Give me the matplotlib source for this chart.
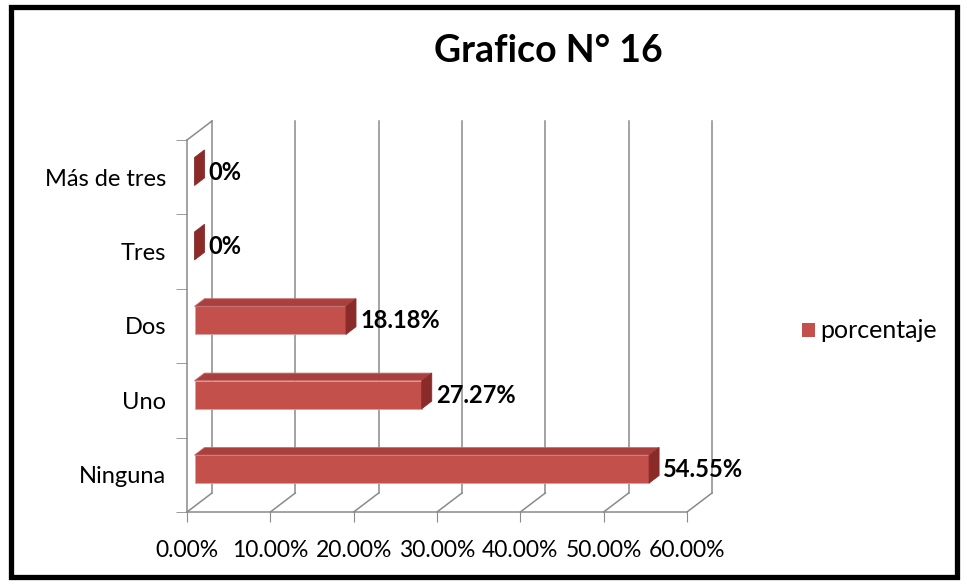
import matplotlib.pyplot as plt
import numpy as np
from matplotlib.patches import Polygon, Rectangle, Patch

plt.rcParams['font.family'] = ['Lato', 'DejaVu Sans']

# Datos
categorias = ['Ninguna', 'Uno', 'Dos', 'Tres', 'Más de tres']
porcentajes = [54.55, 27.27, 18.18, 0.0, 0.0]
etiquetas = ['54.55%', '27.27%', '18.18%', '0%', '0%']
xticks = [0, 10, 20, 30, 40, 50, 60]
xtick_labels = ['0.00%', '10.00%', '20.00%', '30.00%', '40.00%', '50.00%', '60.00%']

W, H = 967, 584
fig = plt.figure(figsize=(W / 100, H / 100), dpi=100)

# plano frontal del grafico (en pixeles de la imagen)
x0, x1 = 187, 687
y_bot, y_top = 512, 140
ax = fig.add_axes([x0 / W, 1 - y_bot / H, (x1 - x0) / W, (y_bot - y_top) / H])
ax.set_xlim(0, 60)
ax.set_ylim(-0.5, 4.5)
ax.set_facecolor('none')

# profundidad 3D en unidades de datos (25 px a la derecha, 19 px arriba)
Dx = 25 / ((x1 - x0) / 60)
Dy = 19 / ((y_bot - y_top) / 5)

grid_c = '#8a8a8a'
# pared trasera + suelo
for v in xticks:
    ax.plot([v + Dx, v + Dx], [-0.5 + Dy, 4.5 + Dy], color=grid_c, lw=1.1, clip_on=False, zorder=1)
    ax.plot([v, v + Dx], [-0.5, -0.5 + Dy], color=grid_c, lw=1.1, clip_on=False, zorder=1)
# pared lateral izquierda
ax.plot([0, Dx], [4.5, 4.5 + Dy], color=grid_c, lw=1.1, clip_on=False, zorder=1)

# barras 3D
df, db = 0.3, 0.7
h = 0.188
c_front = '#c4504c'
c_top = '#a9403d'
c_side = '#8a2b29'
for i, v in enumerate(porcentajes):
    fx, fy = df * Dx, df * Dy
    bx, by = db * Dx, db * Dy
    front = [(fx, i - h + fy), (v + fx, i - h + fy), (v + fx, i + h + fy), (fx, i + h + fy)]
    top = [(fx, i + h + fy), (v + fx, i + h + fy), (v + bx, i + h + by), (bx, i + h + by)]
    side = [(v + fx, i - h + fy), (v + bx, i - h + by), (v + bx, i + h + by), (v + fx, i + h + fy)]
    if v > 0:
        ax.add_patch(Polygon(front, closed=True, facecolor=c_front, edgecolor='#d8a0a0', lw=0.6, clip_on=False, zorder=3))
        ax.add_patch(Polygon(top, closed=True, facecolor=c_top, edgecolor='#c07070', lw=0.6, clip_on=False, zorder=3))
    ax.add_patch(Polygon(side, closed=True, facecolor=c_side, edgecolor=c_side, lw=0.6, clip_on=False, zorder=4))
    ax.text(v + bx + 0.5, i + fy * 0.9, etiquetas[i], fontsize=17, fontweight='bold',
            ha='left', va='center', zorder=5)

# ejes
for s in ['top', 'right']:
    ax.spines[s].set_visible(False)
for s in ['left', 'bottom']:
    ax.spines[s].set_color(grid_c)
    ax.spines[s].set_linewidth(1.1)

ax.set_xticks(xticks)
ax.set_xticklabels(xtick_labels, fontsize=16.5)
ax.tick_params(axis='x', length=7, color=grid_c, pad=13)

ax.set_yticks(range(len(categorias)))
ax.set_yticklabels(categorias, fontsize=17)
ax.set_yticks(np.arange(-0.5, 5, 1), minor=True)
ax.tick_params(axis='y', which='major', length=0, pad=15)
ax.tick_params(axis='y', which='minor', length=8, color=grid_c)

fig.text(548 / W, 1 - 51 / H, 'Grafico N° 16', fontsize=27, fontweight='bold',
         ha='center', va='center')

fig.legend(handles=[Patch(facecolor=c_front)], labels=['porcentaje'],
           loc='center left', bbox_to_anchor=(802 / W, 1 - 331 / H), frameon=False,
           fontsize=18, handlelength=0.5, handleheight=0.5, handletextpad=0.25,
           borderpad=0, borderaxespad=0)

# marco exterior
fig.patches.append(Rectangle((10.5 / W, 7.5 / H), 946 / W, 570 / H, transform=fig.transFigure,
                             fill=False, edgecolor='black', lw=3.8))

fig.savefig('out.png', dpi=100)
